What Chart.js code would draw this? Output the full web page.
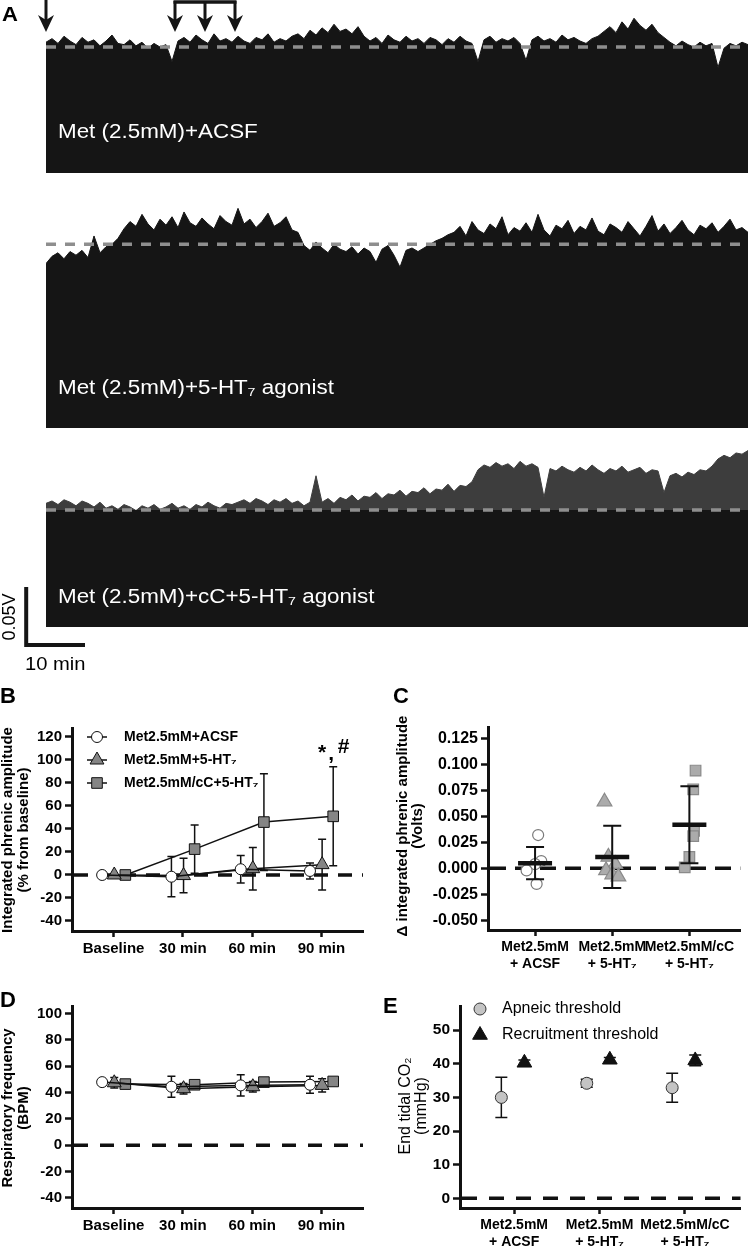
<!DOCTYPE html>
<html>
<head>
<meta charset="utf-8">
<script src="https://cdn.jsdelivr.net/npm/chart.js@4.4.1/dist/chart.umd.min.js"></script>
<style>
  html, body { margin: 0; padding: 0; background: #fff; }
  #fig { position: relative; width: 750px; height: 1246px; overflow: hidden; }
  #fig canvas { position: absolute; }
</style>
</head>
<body>
<div id="fig">
  <canvas id="trace1" width="750" height="176" style="left:0;top:0"></canvas>
  <canvas id="trace2" width="750" height="241" style="left:0;top:190px"></canvas>
  <canvas id="trace3" width="750" height="235" style="left:0;top:440px"></canvas>
  <canvas id="panelB" width="380" height="285" style="left:0;top:680px"></canvas>
  <canvas id="panelC" width="370" height="300" style="left:380px;top:680px"></canvas>
  <canvas id="panelD" width="380" height="261" style="left:0;top:985px"></canvas>
  <canvas id="panelE" width="370" height="261" style="left:380px;top:985px"></canvas>
</div>
<script>
// ---- A: integrated phrenic traces, mV, one reading per minute ----
const traceAcsf = [109,112,108,114,110,107,113,109,111,106,110,115,108,107,111,106,109,104,108,105,107,
  93,
  110,113,109,115,111,108,116,110,112,109,114,110,108,113,111,116,109,112,110,114,
  116,112,119,115,121,117,124,118,120,116,122,114,
  110,113,108,115,111,109,114,110,112,108,113,111,107,112,109,114,110,108,93,
  111,114,109,112,110,113,108,94,111,114,110,112,109,115,111,113,110,108,112,114,
  118,122,117,126,120,129,123,119,124,117,113,
  109,106,110,107,105,109,106,108,88,104,108,106,109,107];
const traceHt7 = [137,143,146,141,147,144,148,142,
  160,146,
  151,153,158,
  166,172,168,178,170,165,174,169,176,167,180,171,168,175,170,166,177,172,169,183,170,174,167,172,179,168,171,176,165,163,
  152,148,155,150,146,153,149,147,151,145,150,147,138,149,152,144,134,148,150,147,
  150,153,156,158,161,
  163,168,160,172,165,162,170,166,176,161,167,164,171,163,178,165,160,169,166,173,
  162,168,165,175,164,161,170,167,163,172,166,160,168,177,164,170,162,167,173,165,
  161,169,166,171,163,168,174,165,167,163];
const traceCcHt7 = [103,105,102,106,104,101,105,103,100,104,
  99,101,98,102,100,97,101,99,102,98,100,103,99,101,98,102,100,104,101,99,103,102,
  104,106,103,107,105,102,106,104,107,103,105,101,104,
  126,
  104,107,103,108,106,110,105,109,108,112,107,111,110,114,109,113,112,116,111,115,114,119,113,118,117,121,
  131,135,133,137,134,136,132,138,134,136,133,
  108,
  132,130,134,131,129,133,130,135,131,128,132,130,134,129,131,133,128,131,130,
  112,
  126,128,125,129,127,131,130,134,
  140,143,141,145,144,147];
const traceBaselines = [105, 153, 97.5];
const traceLabels = ['Met (2.5mM)+ACSF', 'Met (2.5mM)+5-HT\u2087 agonist', 'Met (2.5mM)+cC+5-HT\u2087 agonist'];
const metStartMin = [0];
const agonistMin = [21.5, 26.5, 31.5];
const scaleBarMv = 50, scaleBarMinutes = 10;

// ---- B / D: time course (mean, SD) ----
const timeCategories = ['Baseline', '30 min', '60 min', '90 min'];
const seriesNames = ['Met2.5mM+ACSF', 'Met2.5mM+5-HT\u2087', 'Met2.5mM/cC+5-HT\u2087'];
const ampAcsfMean = [0, -1.5, 5, 3.5];
const ampAcsfSd   = [0, 17.5, 12, 7];
const ampHt7Mean  = [0, -0.5, 5.5, 9];
const ampHt7Sd    = [0, 15, 18.5, 22];
const ampCcMean   = [0, 22.5, 46, 51];
const ampCcSd     = [0, 21, 42, 43];
const ampTicks = [-40, -20, 0, 20, 40, 60, 80, 100, 120];

const bpmAcsfMean = [48, 44.5, 45.5, 46];
const bpmAcsfSd   = [0, 8, 8, 6.5];
const bpmHt7Mean  = [47.5, 43, 44.5, 45.5];
const bpmHt7Sd    = [4, 4, 4, 5];
const bpmCcMean   = [46.5, 46, 48, 48.5];
const bpmCcSd     = [3, 2, 2, 2];
const bpmTicks = [-40, -20, 0, 20, 40, 60, 80, 100];

// ---- C: change in integrated amplitude, volts ----
const groupCategories = [['Met2.5mM', '+ ACSF'], ['Met2.5mM', '+ 5-HT\u2087'], ['Met2.5mM/cC', '+ 5-HT\u2087']];
const deltaAcsf = [0.032, 0.007, 0.004, -0.002, -0.015];
const deltaHt7  = [0.064, 0.011, 0.004, -0.002, -0.006, -0.008];
const deltaCc   = [0.094, 0.076, 0.036, 0.031, 0.011, 0.001];
const deltaMean = [0.005, 0.011, 0.042];
const deltaSd   = [0.0155, 0.030, 0.037];
const deltaTicks = [-0.05, -0.025, 0, 0.025, 0.05, 0.075, 0.1, 0.125];

// ---- E: end tidal CO2 thresholds, mmHg ----
const apneicMean  = [30, 34.2, 32.9];
const apneicSd    = [6, 1.2, 4.3];
const recruitMean = [40.3, 41.2, 41];
const recruitSd   = [0.8, 0.7, 1.6];
const co2Ticks = [0, 10, 20, 30, 40, 50];

// ---------------------------------------------------------------
const FONT = '"Liberation Sans", Arial, Helvetica, sans-serif';
const INK = '#151515';
Chart.defaults.font.family = FONT;
Chart.defaults.color = '#000';

function stretchText(ctx, text, x, y, font, color, sx) {
  ctx.save();
  ctx.font = font; ctx.fillStyle = color; ctx.textBaseline = 'alphabetic'; ctx.textAlign = 'left';
  ctx.translate(x, y); ctx.scale(sx, 1); ctx.fillText(text, 0, 0);
  ctx.restore();
}

function verticalTitle(ctx, lines, cx, cy, gap, font) {
  ctx.save();
  ctx.font = font; ctx.fillStyle = '#000'; ctx.textAlign = 'center'; ctx.textBaseline = 'middle';
  lines.forEach((t, k) => {
    ctx.save(); ctx.translate(cx + k * gap, cy); ctx.rotate(-Math.PI / 2); ctx.fillText(t, 0, 0); ctx.restore();
  });
  ctx.restore();
}

function mark(ctx, style, r, x, y) {
  ctx.beginPath();
  if (style === 'circle') ctx.arc(x, y, r, 0, Math.PI * 2);
  else if (style === 'triangle') {
    ctx.moveTo(x, y - r); ctx.lineTo(x + r * 0.866, y + r * 0.5); ctx.lineTo(x - r * 0.866, y + r * 0.5); ctx.closePath();
  } else { const h = r * Math.SQRT1_2; ctx.rect(x - h, y - h, 2 * h, 2 * h); }
  ctx.fill(); ctx.stroke();
}

function arrowDown(ctx, x, y0, tip) {
  ctx.strokeStyle = INK; ctx.fillStyle = INK; ctx.lineWidth = 3;
  ctx.beginPath(); ctx.moveTo(x, y0); ctx.lineTo(x, tip - 10); ctx.stroke();
  ctx.beginPath(); ctx.moveTo(x - 8, tip - 17); ctx.lineTo(x, tip); ctx.lineTo(x + 8, tip - 17); ctx.lineTo(x, tip - 12); ctx.closePath(); ctx.fill();
}

function traceChart(id, values, baseline, yMax, padBottom, split, decorate) {
  const last = values.length - 1;
  const flat = [{ x: 0, y: baseline }, { x: last, y: baseline }];
  const datasets = [{ data: flat, borderColor: '#8e8e8e', borderWidth: 3.5, borderDash: [10, 9], pointRadius: 0, fill: false, order: 0 }];
  if (split) datasets.push({ data: flat, borderWidth: 0, borderColor: INK, backgroundColor: INK, pointRadius: 0, fill: 'origin', order: 1 });
  const c = split ? '#3d3d3d' : INK;
  datasets.push({ data: values.map((v, i) => ({ x: i, y: v })), borderColor: c, borderWidth: 1, backgroundColor: c,
    pointRadius: 0, fill: 'origin', tension: 0, order: 2 });
  return new Chart(document.getElementById(id), {
    type: 'line',
    data: { datasets },
    options: {
      responsive: false, animation: false, events: [],
      layout: { padding: { left: 46, right: 2, top: 0, bottom: padBottom } },
      scales: { x: { type: 'linear', display: false, min: 0, max: last }, y: { display: false, min: 0, max: yMax } },
      plugins: { legend: { display: false }, tooltip: { enabled: false } }
    },
    plugins: [{ id: id + 'Deco', afterDraw: decorate }]
  });
}

const labelFont = '20px ' + FONT;

traceChart('trace1', traceAcsf, traceBaselines[0], 144.2, 3, false, chart => {
  const { ctx, scales: { x } } = chart;
  ctx.save();
  stretchText(ctx, 'A', 2, 21, 'bold 21px ' + FONT, '#000', 1.05);
  metStartMin.forEach(m => arrowDown(ctx, x.getPixelForValue(m), 0, 32));
  const a0 = x.getPixelForValue(agonistMin[0]), a1 = x.getPixelForValue(agonistMin[agonistMin.length - 1]);
  ctx.lineWidth = 3.5; ctx.strokeStyle = INK;
  ctx.beginPath(); ctx.moveTo(a0 - 1.5, 2); ctx.lineTo(a1 + 1.5, 2); ctx.stroke();
  agonistMin.forEach(m => arrowDown(ctx, x.getPixelForValue(m), 1, 32));
  stretchText(ctx, traceLabels[0], 58, 138, labelFont, '#fff', 1.12);
  ctx.restore();
});

traceChart('trace2', traceHt7, traceBaselines[1], 198.3, 3, false, chart => {
  stretchText(chart.ctx, traceLabels[1], 58, 204, labelFont, '#fff', 1.12);
});

traceChart('trace3', traceCcHt7, traceBaselines[2], 155.8, 48, true, chart => {
  const { ctx, scales: { x, y } } = chart;
  stretchText(ctx, traceLabels[2], 58, 163, labelFont, '#fff', 1.12);
  // scale bar, placed just left of and below the trace start
  const bx = x.getPixelForValue(-3.3), bx2 = x.getPixelForValue(-3.5 + scaleBarMinutes);
  const by = y.getPixelForValue(-16.7), by2 = y.getPixelForValue(-16.7 + scaleBarMv);
  ctx.save();
  ctx.strokeStyle = INK; ctx.lineWidth = 4;
  ctx.beginPath(); ctx.moveTo(bx, by2); ctx.lineTo(bx, by - 2); ctx.lineTo(bx2, by - 2); ctx.stroke();
  verticalTitle(ctx, ['0.05V'], 10.5, 177, 0, '18px ' + FONT);
  stretchText(ctx, scaleBarMinutes + ' min', 25, 230, '18px ' + FONT, '#000', 1.12);
  ctx.restore();
});

// ---------------- B to E ----------------
function yAxis(min, max, ticks, width, size, fmt) {
  return {
    type: 'linear', position: 'left', min, max,
    afterBuildTicks: s => { s.ticks = ticks.map(v => ({ value: v })); },
    afterFit: s => { s.width = width; },
    ticks: { font: { size, weight: 'bold' }, color: '#000', padding: 3, callback: fmt || (v => v) },
    grid: { drawOnChartArea: false, tickLength: 7, tickWidth: 2.5, tickColor: '#111' },
    border: { color: '#111', width: 3 }
  };
}
function xAxis(min, max, labels, height, size) {
  return {
    type: 'linear', position: 'bottom', min, max,
    afterBuildTicks: s => { s.ticks = labels.map((l, i) => ({ value: i })); },
    afterFit: s => { s.height = height; },
    ticks: { font: { size, weight: 'bold' }, color: '#000', padding: 3, autoSkip: false, maxRotation: 0, callback: v => labels[v] },
    grid: { drawOnChartArea: false, tickLength: 6, tickWidth: 2.5, tickColor: '#111' },
    border: { color: '#111', width: 3 }
  };
}

function panelChart(id, type, datasets, padding, scales, under, over) {
  return new Chart(document.getElementById(id), {
    type,
    data: { datasets },
    options: {
      responsive: false, animation: false, events: [],
      layout: { padding },
      scales,
      plugins: { legend: { display: false }, tooltip: { enabled: false } }
    },
    plugins: [{ id: id + 'Deco', beforeDatasetsDraw: under || (() => {}), afterDatasetsDraw: over || (() => {}) }]
  });
}

function zeroLine(chart, dash, width) {
  const { ctx, chartArea: a, scales: { y } } = chart;
  const py = y.getPixelForValue(0);
  ctx.save();
  ctx.strokeStyle = '#111'; ctx.lineWidth = width; ctx.setLineDash(dash);
  ctx.beginPath(); ctx.moveTo(a.left + 2, py); ctx.lineTo(a.right, py); ctx.stroke();
  ctx.restore();
}

function errorBars(chart, groups, cap, width) {
  const { ctx, scales: { x, y } } = chart;
  ctx.save();
  ctx.strokeStyle = '#111'; ctx.lineWidth = width;
  groups.forEach(g => g.mean.forEach((m, i) => {
    if (!g.sd[i]) return;
    const px = x.getPixelForValue(i + g.offset);
    const t = y.getPixelForValue(m + g.sd[i]), b = y.getPixelForValue(m - g.sd[i]);
    ctx.beginPath();
    ctx.moveTo(px, t); ctx.lineTo(px, b);
    ctx.moveTo(px - cap, t); ctx.lineTo(px + cap, t);
    ctx.moveTo(px - cap, b); ctx.lineTo(px + cap, b);
    ctx.stroke();
  }));
  ctx.restore();
}

const TIME_OFFSETS = [-0.165, 0.01, 0.17];
const TIME_STYLES = [
  { style: 'circle', r: 5.5, fill: '#ffffff' },
  { style: 'triangle', r: 8, fill: '#858585' },
  { style: 'rect', r: 7.5, fill: '#858585' }
];

function timeSeries(means, k) {
  const s = TIME_STYLES[k];
  return {
    data: means.map((m, i) => ({ x: i + TIME_OFFSETS[k], y: m })),
    borderColor: '#111', borderWidth: 1.5, tension: 0, fill: false,
    pointStyle: s.style, pointRadius: s.r, pointBackgroundColor: s.fill, pointBorderColor: '#111', pointBorderWidth: 1
  };
}

function panelLetter(ctx, letter, x, y) {
  ctx.save(); ctx.font = 'bold 22px ' + FONT; ctx.fillStyle = '#000'; ctx.fillText(letter, x, y); ctx.restore();
}

// B
const ampGroups = [
  { mean: ampAcsfMean, sd: ampAcsfSd, offset: TIME_OFFSETS[0] },
  { mean: ampHt7Mean, sd: ampHt7Sd, offset: TIME_OFFSETS[1] },
  { mean: ampCcMean, sd: ampCcSd, offset: TIME_OFFSETS[2] }
];
panelChart('panelB', 'line',
  [timeSeries(ampAcsfMean, 0), timeSeries(ampHt7Mean, 1), timeSeries(ampCcMean, 2)],
  { top: 48, right: 17, left: 0, bottom: 0 },
  { x: xAxis(-0.6, 3.6, timeCategories, 34, 15), y: yAxis(-48.7, 127.8, ampTicks, 72, 15) },
  chart => { zeroLine(chart, [14, 10], 3.5); errorBars(chart, ampGroups, 4, 1.5); },
  chart => {
    const { ctx, scales: { x, y } } = chart;
    panelLetter(ctx, 'B', 0, 23);
    verticalTitle(ctx, ['Integrated phrenic amplitude', '(% from baseline)'], 8, 150, 16, 'bold 15px ' + FONT);
    ctx.save();
    ctx.font = 'bold 14px ' + FONT; ctx.textBaseline = 'middle';
    seriesNames.forEach((name, k) => {
      const ly = 57 + k * 23, s = TIME_STYLES[k];
      ctx.strokeStyle = '#111'; ctx.lineWidth = 1.5;
      ctx.beginPath(); ctx.moveTo(87, ly); ctx.lineTo(107, ly); ctx.stroke();
      ctx.fillStyle = s.fill; ctx.lineWidth = 1; mark(ctx, s.style, s.r, 97, ly);
      ctx.fillStyle = '#000'; ctx.fillText(name, 124, ly);
    });
    // significance marks above the 90 min cC group
    const sx = x.getPixelForValue(3 + TIME_OFFSETS[2]), sy = y.getPixelForValue(106);
    ctx.font = 'bold 21px ' + FONT; ctx.textBaseline = 'alphabetic'; ctx.textAlign = 'center';
    ctx.fillText('*', sx - 11, sy + 6);
    ctx.fillText('#', sx + 10.5, sy);
    ctx.fillText(',', sx - 2, sy + 7);
    ctx.restore();
  });

// C
const C_JITTER = [
  [0.04, 0.08, 0.0, -0.11, 0.02],
  [-0.1, -0.05, 0.04, -0.08, 0.0, 0.08],
  [0.08, 0.05, 0.06, 0.05, 0.0, -0.06]
];
function dotGroup(values, k, style, r, fill, edge) {
  return {
    data: values.map((v, j) => ({ x: k + C_JITTER[k][j], y: v })),
    pointStyle: style, pointRadius: r, pointBackgroundColor: fill, pointBorderColor: edge, pointBorderWidth: 1.2
  };
}
panelChart('panelC', 'scatter',
  [dotGroup(deltaAcsf, 0, 'circle', 5.5, '#ffffff', '#7a7a7a'),
   dotGroup(deltaHt7, 1, 'triangle', 8.5, '#ababab', '#8a8a8a'),
   dotGroup(deltaCc, 2, 'rect', 7.5, '#ababab', '#8a8a8a')],
  { top: 47, right: 0, left: 0, bottom: 0 },
  { x: xAxis(-0.61, 2.66, groupCategories, 50, 14),
    y: yAxis(-0.0593, 0.1359, deltaTicks, 108, 16, v => v.toFixed(3)) },
  chart => { zeroLine(chart, [16, 9], 3.5); },
  chart => {
    const { ctx, scales: { x, y } } = chart;
    errorBars(chart, [{ mean: deltaMean, sd: deltaSd, offset: 0 }], 9, 2);
    ctx.save();
    ctx.strokeStyle = '#111'; ctx.lineWidth = 4.5;
    deltaMean.forEach((m, i) => {
      const px = x.getPixelForValue(i), py = y.getPixelForValue(m);
      ctx.beginPath(); ctx.moveTo(px - 17, py); ctx.lineTo(px + 17, py); ctx.stroke();
    });
    ctx.restore();
    panelLetter(ctx, 'C', 13, 23);
    verticalTitle(ctx, ['\u0394 integrated phrenic amplitude', '(Volts)'], 23, 146, 15, 'bold 15px ' + FONT);
  });

// D
const bpmGroups = [
  { mean: bpmAcsfMean, sd: bpmAcsfSd, offset: TIME_OFFSETS[0] },
  { mean: bpmHt7Mean, sd: bpmHt7Sd, offset: TIME_OFFSETS[1] },
  { mean: bpmCcMean, sd: bpmCcSd, offset: TIME_OFFSETS[2] }
];
panelChart('panelD', 'line',
  [timeSeries(bpmAcsfMean, 0), timeSeries(bpmHt7Mean, 1), timeSeries(bpmCcMean, 2)],
  { top: 21, right: 17, left: 0, bottom: 0 },
  { x: xAxis(-0.6, 3.6, timeCategories, 38, 15), y: yAxis(-47.6, 105.8, bpmTicks, 72, 15) },
  chart => { zeroLine(chart, [14, 12], 3.5); errorBars(chart, bpmGroups, 4, 1.5); },
  chart => {
    panelLetter(chart.ctx, 'D', 0, 22);
    verticalTitle(chart.ctx, ['Respiratory frequency', '(BPM)'], 8, 123, 16, 'bold 15px ' + FONT);
  });

// E
const E_OFFSETS = [-0.15, 0.12];
const E_STYLES = [
  { style: 'circle', r: 6, fill: '#c4c4c4', edge: '#333' },
  { style: 'triangle', r: 8.5, fill: '#111', edge: '#111' }
];
function thresholdSeries(means, k) {
  const s = E_STYLES[k];
  return {
    data: means.map((m, i) => ({ x: i + E_OFFSETS[k], y: m })),
    pointStyle: s.style, pointRadius: s.r, pointBackgroundColor: s.fill, pointBorderColor: s.edge, pointBorderWidth: 1
  };
}
const thresholdNames = ['Apneic threshold', 'Recruitment threshold'];
panelChart('panelE', 'scatter',
  [thresholdSeries(apneicMean, 0), thresholdSeries(recruitMean, 1)],
  { top: 21, right: 0, left: 0, bottom: 0 },
  { x: xAxis(-0.634, 2.65, groupCategories, 38, 14), y: yAxis(-2.9, 57.2, co2Ticks, 80, 15.5) },
  chart => {
    zeroLine(chart, [15, 12], 3.5);
    errorBars(chart, [{ mean: apneicMean, sd: apneicSd, offset: E_OFFSETS[0] },
                      { mean: recruitMean, sd: recruitSd, offset: E_OFFSETS[1] }], 6, 1.5);
  },
  chart => {
    const { ctx } = chart;
    panelLetter(ctx, 'E', 3, 28);
    verticalTitle(ctx, ['End tidal CO\u2082', '(mmHg)'], 26, 121, 16, '16px ' + FONT);
    ctx.save();
    ctx.font = '16px ' + FONT; ctx.textBaseline = 'middle';
    thresholdNames.forEach((name, k) => {
      const s = E_STYLES[k], ly = 24 + k * 26;
      ctx.fillStyle = s.fill; ctx.strokeStyle = s.edge; ctx.lineWidth = 1;
      mark(ctx, s.style, s.r, 100, ly);
      ctx.fillStyle = '#000'; ctx.fillText(name, 122, ly);
    });
    ctx.restore();
  });
</script>
</body>
</html>
